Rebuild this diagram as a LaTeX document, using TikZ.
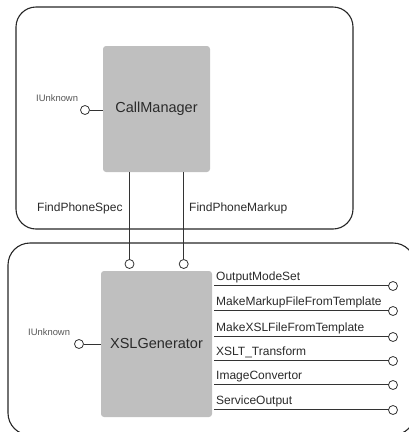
\documentclass[tikz,border=0pt]{standalone}
\usepackage{fontspec}
\setmainfont{Liberation Sans}
\definecolor{boxgray}{HTML}{BFBFBF}
\definecolor{txt}{HTML}{2A2A2A}
\definecolor{ln}{HTML}{333333}
\begin{document}
\begin{tikzpicture}[x=1pt,y=-1pt,
  comp/.style={rectangle,fill=boxgray,rounded corners=3pt,inner sep=0pt,text=txt,font=\fontsize{14.5}{16}\selectfont},
  lolli/.style={circle,draw=ln,line width=0.8pt,fill=white,minimum size=9pt,inner sep=0pt},
  frame/.style={draw=black!85,line width=1.1pt},
  conn/.style={draw=ln,line width=0.9pt},
  lbl/.style={text=txt,inner sep=0pt,font=\fontsize{12}{14}\selectfont},
  small/.style={text=txt!80,inner sep=0pt,font=\fontsize{9.4}{11}\selectfont}]
\useasboundingbox (0,0) rectangle (409,432);
\clip (0,0) rectangle (409,432);
% frames
\draw[frame,rounded corners=20pt] (16,7) rectangle (353,229);
\draw[frame,rounded corners=22pt] (8,243) rectangle (415,435);
% components
\node[comp,minimum width=107pt,minimum height=126pt] (cm) at (156.5,109) {CallManager};
\node[comp,minimum width=111pt,minimum height=146pt] (xg) at (156.5,344) {XSLGenerator};
% IUnknown top
\node[lolli] (iu1) at (85,110) {};
\draw[conn] (iu1) -- (cm.west |- iu1);
\node[small,anchor=west] (iu1l) at (36,98) {IUnknown};
% IUnknown bottom
\node[lolli] (iu2) at (79,344) {};
\draw[conn] (iu2) -- (xg.west |- iu2);
\node[small,anchor=west] (iu2l) at (28,332) {IUnknown};
% vertical interfaces
\node[lolli] (p1) at (129.5,264) {};
\node[lolli] (p2) at (183.7,264) {};
\draw[conn] (cm.south -| p1) -- (p1.north);
\draw[conn] (cm.south -| p2) -- (p2.north);
\node[lbl,anchor=west] (fps) at (37,208) {FindPhoneSpec};
\node[lbl,anchor=west] (fpm) at (189,208) {FindPhoneMarkup};
% right interfaces
\foreach \i/\y/\t in {1/285/OutputModeSet,2/310/MakeMarkupFileFromTemplate,3/336/MakeXSLFileFromTemplate,4/360/XSLT\_Transform,5/384/ImageConvertor,6/409/ServiceOutput}{
  \coordinate (s\i) at (214,\y);
  \node[lolli] (r\i) at (393,\y+1) {};
  \draw[conn] (s\i) -- (r\i.west |- s\i) -- (r\i.west);
  \node[lbl,anchor=south west] (t\i) at (216,\y-2) {\t};
}
\end{tikzpicture}
\end{document}
